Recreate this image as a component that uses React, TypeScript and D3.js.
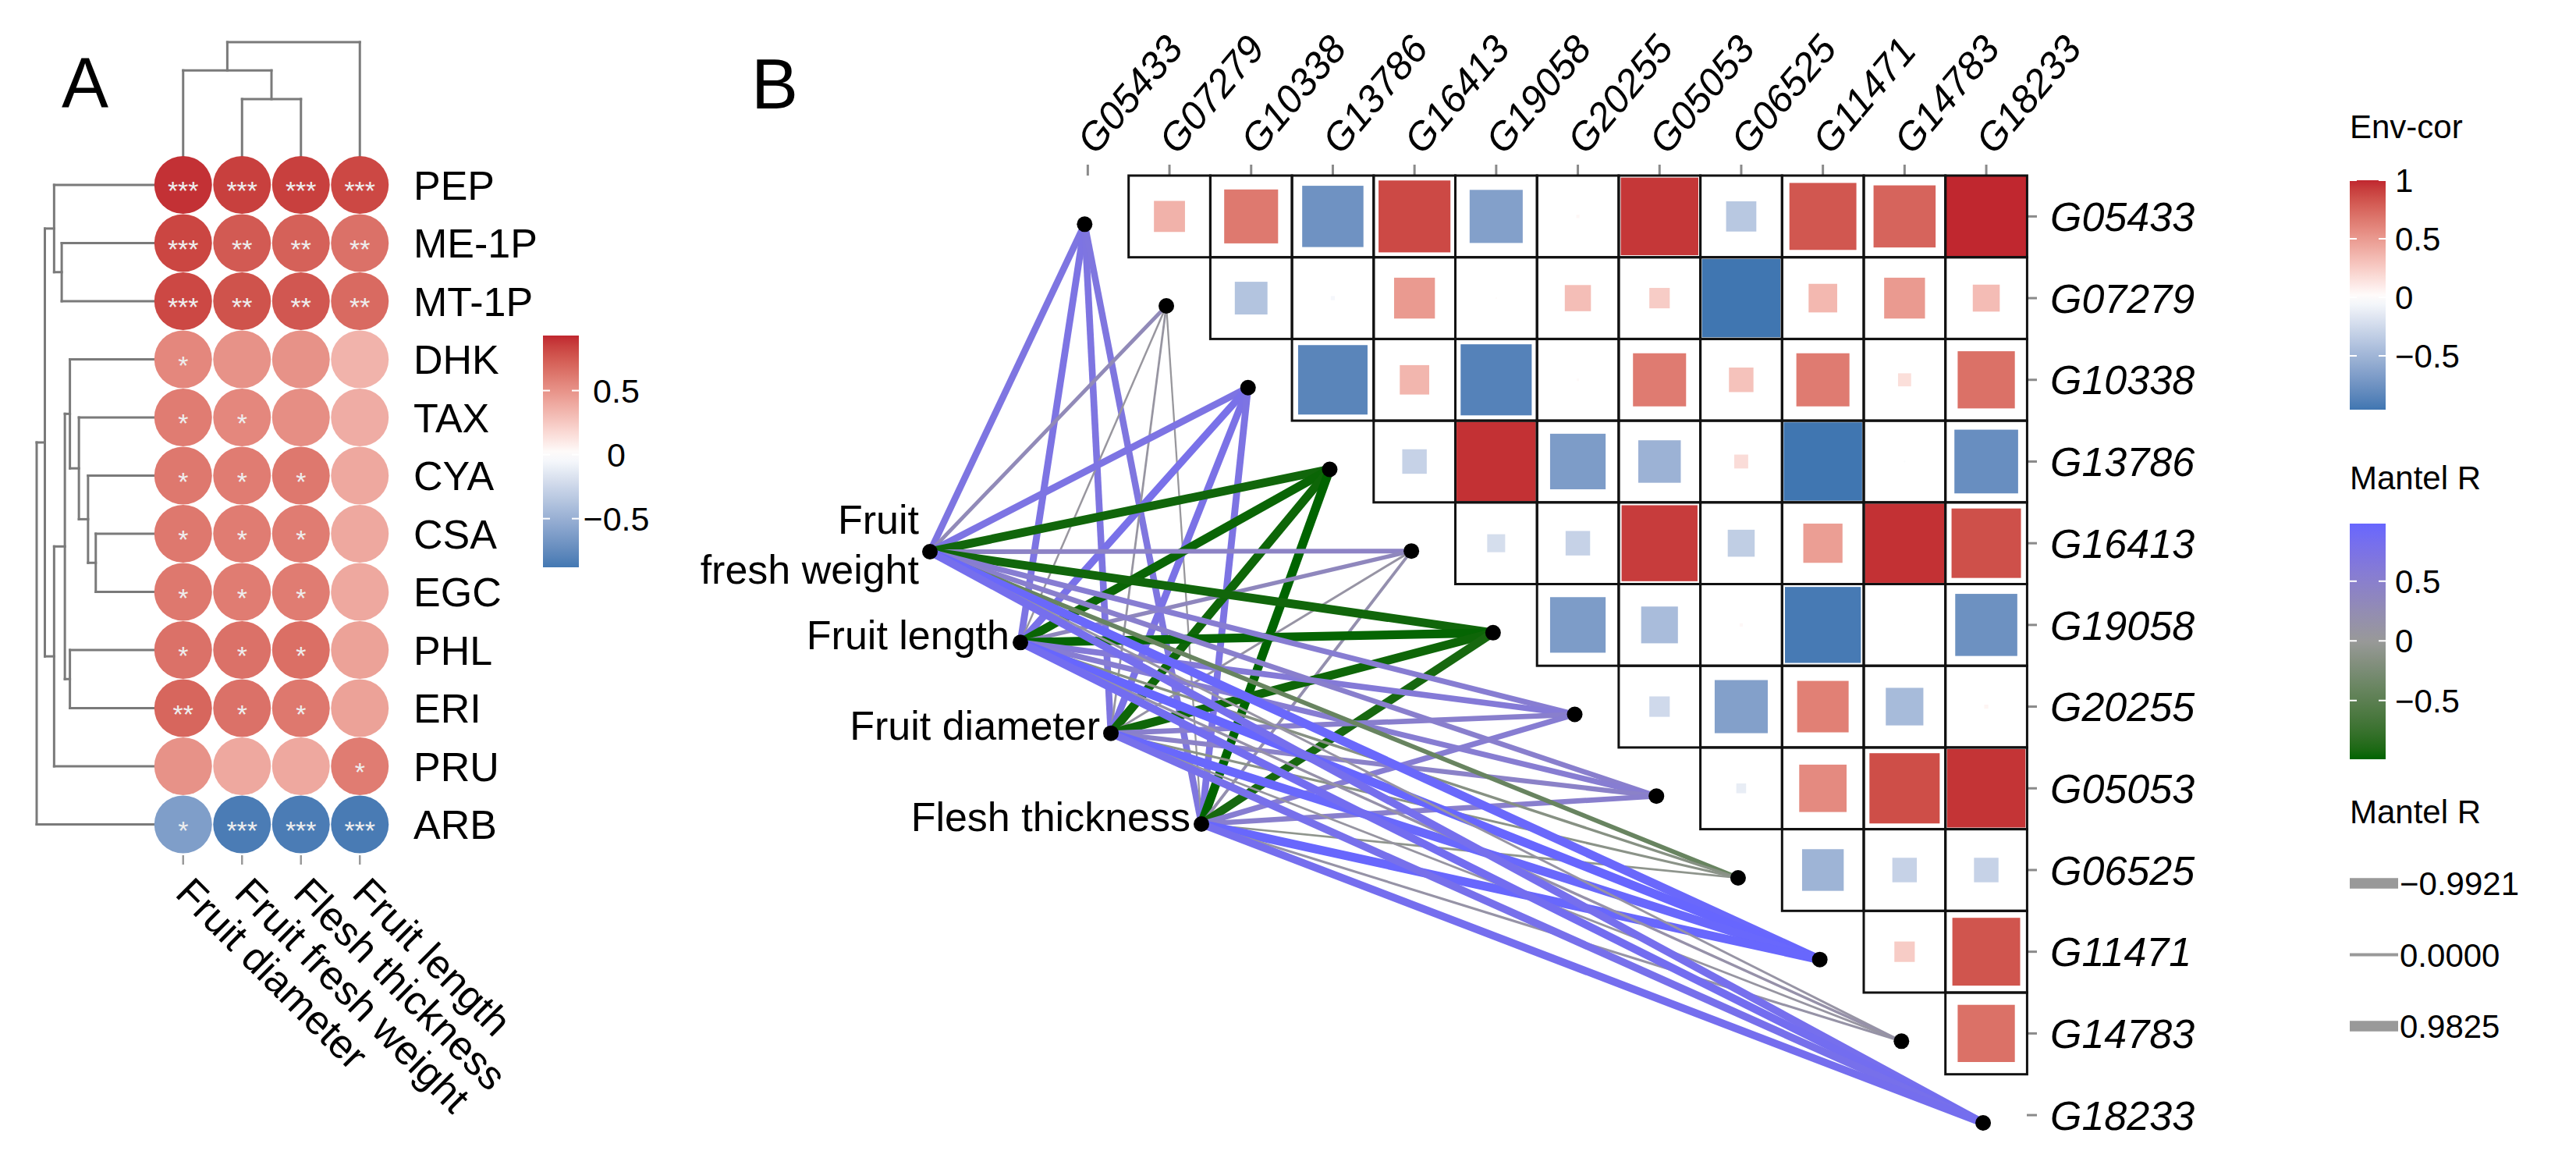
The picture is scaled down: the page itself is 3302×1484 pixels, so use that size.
import React from 'react';
import * as d3 from 'd3';

// ================= Panel A data =================
const traitsA = ['PEP', 'ME-1P', 'MT-1P', 'DHK', 'TAX', 'CYA', 'CSA', 'EGC', 'PHL', 'ERI', 'PRU', 'ARB'];
const fruitVarsA = ['Fruit diameter', 'Fruit fresh weight', 'Flesh thickness', 'Fruit length'];
const corrA: number[][] = [
  [0.90, 0.85, 0.85, 0.82],
  [0.83, 0.75, 0.72, 0.65],
  [0.82, 0.78, 0.76, 0.68],
  [0.55, 0.50, 0.50, 0.35],
  [0.60, 0.55, 0.52, 0.38],
  [0.62, 0.60, 0.62, 0.40],
  [0.62, 0.60, 0.60, 0.40],
  [0.62, 0.60, 0.60, 0.40],
  [0.65, 0.65, 0.66, 0.43],
  [0.70, 0.65, 0.62, 0.43],
  [0.50, 0.40, 0.40, 0.60],
  [-0.62, -0.85, -0.85, -0.86],
];
const starsA: string[][] = [
  ['***', '***', '***', '***'],
  ['***', '**', '**', '**'],
  ['***', '**', '**', '**'],
  ['*', '', '', ''],
  ['*', '*', '', ''],
  ['*', '*', '*', ''],
  ['*', '*', '*', ''],
  ['*', '*', '*', ''],
  ['*', '*', '*', ''],
  ['**', '*', '*', ''],
  ['', '', '', '*'],
  ['*', '***', '***', '***'],
];
type Tree = string | { h: number; c: Tree[] };
const rowTreeA: Tree = {
  h: 1.0,
  c: [
    {
      h: 0.93,
      c: [
        { h: 0.851, c: ['PEP', { h: 0.786, c: ['ME-1P', 'MT-1P'] }] },
        {
          h: 0.851,
          c: [
            {
              h: 0.759,
              c: [
                { h: 0.716, c: ['DHK', { h: 0.639, c: ['TAX', { h: 0.561, c: ['CYA', { h: 0.495, c: ['CSA', 'EGC'] }] }] }] },
                { h: 0.716, c: ['PHL', 'ERI'] },
              ],
            },
            'PRU',
          ],
        },
      ],
    },
    'ARB',
  ],
};
const colTreeA: Tree = {
  h: 1.0,
  c: [{ h: 0.752, c: ['Fruit diameter', { h: 0.5, c: ['Fruit fresh weight', 'Flesh thickness'] }] }, 'Fruit length'],
};
const breaksA = [0.5, 0, -0.5];
const rangeA = [-0.88, 0.93];

// ================= Panel B data =================
const genes = ['G05433', 'G07279', 'G10338', 'G13786', 'G16413', 'G19058', 'G20255', 'G05053', 'G06525', 'G11471', 'G14783', 'G18233'];
// upper triangle: row i holds correlations with genes i+1 .. 11
const geneCor: number[][] = [
  [0.38, 0.66, -0.75, 0.88, -0.65, 0.04, 0.95, -0.37, 0.82, 0.76, 1.0],
  [-0.40, -0.05, 0.50, 0.02, 0.32, 0.25, -0.96, 0.35, 0.50, 0.33],
  [-0.85, 0.36, -0.87, 0.03, 0.65, 0.30, 0.65, 0.16, 0.70],
  [-0.30, 0.97, -0.68, -0.52, 0.17, -0.96, -0.02, -0.78],
  [-0.22, -0.30, 0.93, -0.33, 0.48, 0.97, 0.85],
  [-0.68, -0.45, 0.04, -0.93, 0.01, -0.76],
  [-0.25, -0.65, 0.63, -0.46, 0.05],
  [-0.12, 0.58, 0.86, 0.96],
  [-0.51, -0.30, -0.30],
  [0.25, 0.83],
  [0.70],
];
const envVars = ['Fruit fresh weight', 'Fruit length', 'Fruit diameter', 'Flesh thickness'];
const envLabelLines = [['Fruit', 'fresh weight'], ['Fruit length'], ['Fruit diameter'], ['Flesh thickness']];
// Mantel r: [env][gene]
const mantelR: number[][] = [
  [0.70, 0.30, 0.72, -0.95, 0.42, -0.95, 0.55, 0.50, -0.40, 0.95, 0.10, 0.82],
  [0.72, 0.05, 0.78, -0.97, 0.35, -0.98, 0.60, 0.55, -0.15, 0.9825, 0.15, 0.85],
  [0.70, 0.08, 0.75, -0.96, 0.10, -0.96, 0.50, 0.45, -0.12, 0.96, 0.08, 0.80],
  [0.68, 0.03, 0.72, -0.9921, 0.20, -0.93, 0.55, 0.50, -0.08, 0.97, 0.12, 0.83],
];
const breaksEnv = [1, 0.5, 0, -0.5];
const rangeEnv = [-0.96, 1];
const breaksMantel = [0.5, 0, -0.5];
const rangeMantel = [-0.9921, 0.9825];
const sizeKeys = [-0.9921, 0, 0.9825];
const sizeKeyLabels = ['\u22120.9921', '0.0000', '0.9825'];

const FONT = "'Liberation Sans', Arial, Helvetica, sans-serif";
const RED = '#C0272F';
const BLUE = '#3571AE';
const WHITE = '#FFFFFF';
const fmt = d3.format('~g');

function dendroSegs(tree: Tree, leafPos: (n: string) => number, hPos: (h: number) => number, orient: 'left' | 'top') {
  const segs: number[][] = [];
  function rec(t: Tree): { p: number; h: number } {
    if (typeof t === 'string') return { p: leafPos(t), h: 0 };
    const kids = t.c.map(rec);
    const ps = kids.map((k) => k.p);
    const p = (Math.min(...ps) + Math.max(...ps)) / 2;
    const a = hPos(t.h);
    if (orient === 'left') {
      segs.push([a, Math.min(...ps), a, Math.max(...ps)]);
      kids.forEach((k) => segs.push([hPos(k.h), k.p, a, k.p]));
    } else {
      segs.push([Math.min(...ps), a, Math.max(...ps), a]);
      kids.forEach((k) => segs.push([k.p, hPos(k.h), k.p, a]));
    }
    return { p, h: t.h };
  }
  rec(tree);
  return segs;
}

function Gradient({ id, scale, domain }: { id: string; scale: (v: number) => string; domain: number[] }) {
  const n = 24;
  const stops = d3.range(n + 1).map((i) => {
    const v = domain[0] + ((domain[1] - domain[0]) * i) / n;
    return <stop key={i} offset={`${(i / n) * 100}%`} stopColor={scale(v)} />;
  });
  return (
    <linearGradient id={id} x1="0" y1="1" x2="0" y2="0">
      {stops}
    </linearGradient>
  );
}

export default function App() {
  // ---------- A scales ----------
  const xA = d3.scaleBand<string>().domain(fruitVarsA).range([197, 499]);
  const yA = d3.scaleBand<string>().domain(traitsA).range([199.75, 1093.75]);
  const mA = Math.max(Math.abs(rangeA[0]), Math.abs(rangeA[1]));
  const colorA = d3.scaleLinear<string>().domain([-mA, 0, mA]).range([BLUE, WHITE, RED]).interpolate(d3.interpolateLab).clamp(true);
  const cxA = (v: string) => (xA(v) as number) + xA.bandwidth() / 2;
  const cyA = (v: string) => (yA(v) as number) + yA.bandwidth() / 2;
  const rowH = d3.scaleLinear().domain([0, 1]).range([197, 47]);
  const colH = d3.scaleLinear().domain([0, 1]).range([200, 54]);
  const rowSegs = dendroSegs(rowTreeA, cyA, rowH, 'left');
  const colSegs = dendroSegs(colTreeA, cxA, colH, 'top');
  const legA = d3.scaleLinear().domain(rangeA).range([727, 430]);

  // ---------- B scales ----------
  const xB = d3.scaleBand<string>().domain(genes).range([1342, 2598.4]);
  const yB = d3.scaleBand<string>().domain(genes).range([225, 1481.4]);
  const cell = xB.bandwidth();
  const cxB = (g: string) => (xB(g) as number) + cell / 2;
  const cyB = (g: string) => (yB(g) as number) + cell / 2;
  const mB = Math.max(Math.abs(rangeEnv[0]), Math.abs(rangeEnv[1]));
  const colorB = d3.scaleLinear<string>().domain([-mB, 0, mB]).range([BLUE, WHITE, RED]).interpolate(d3.interpolateLab).clamp(true);
  const sizeB = d3.scaleLinear().domain([0, 1]).range([0, cell]).clamp(true);
  const mM = Math.max(Math.abs(rangeMantel[0]), Math.abs(rangeMantel[1]));
  const colorM = d3.scaleLinear<string>().domain([-mM, 0, mM]).range(['#006400', '#999999', '#6666FF']).interpolate(d3.interpolateLab).clamp(true);
  const widthM = d3.scaleLinear().domain([0, 1]).range([2, 11.5]);
  const envX = d3.scaleLinear().domain([0, envVars.length - 1]).range([1192, 1540]);
  const envY = d3.scaleLinear().domain([0, envVars.length - 1]).range([707, 1056]);
  const gnx = (g: string) => cxB(g) - 4;
  const gny = (g: string) => cyB(g) + 10;

  const legL = 3012;
  const barW = 46;
  const legEnv = d3.scaleLinear().domain(rangeEnv).range([525, 231]);
  const legMan = d3.scaleLinear().domain(rangeMantel).range([973, 671]);
  const keyY = d3.scaleLinear().domain([0, 2]).range([1132, 1315]);

  const cells: { i: number; j: number; r: number }[] = [];
  geneCor.forEach((row, i) => row.forEach((r, k) => cells.push({ i, j: i + 1 + k, r })));

  const edges: { e: number; g: number; r: number }[] = [];
  genes.forEach((_, g) => envVars.forEach((__, e) => edges.push({ e, g, r: mantelR[e][g] })));

  return (
    <div style={{ position: 'absolute', left: 0, top: 0 }}>
      <svg width={3302} height={1484} style={{ display: 'block', background: '#fff' }} fontFamily={FONT}>
        <defs>
          <Gradient id="gA" scale={colorA} domain={rangeA} />
          <Gradient id="gEnv" scale={colorB} domain={rangeEnv} />
          <Gradient id="gMan" scale={colorM} domain={rangeMantel} />
        </defs>
        <rect width={3302} height={1484} fill="#fff" />

        {/* ================= Panel A ================= */}
        <text x={79} y={137} fontSize={90}>A</text>
        <g stroke="#7a7a7a" strokeWidth={3} fill="none" strokeLinecap="square">
          {rowSegs.map((s, k) => <line key={'r' + k} x1={s[0]} y1={s[1]} x2={s[2]} y2={s[3]} />)}
          {colSegs.map((s, k) => <line key={'c' + k} x1={s[0]} y1={s[1]} x2={s[2]} y2={s[3]} />)}
        </g>
        {traitsA.map((t, i) =>
          fruitVarsA.map((f, j) => (
            <g key={t + f}>
              <circle cx={cxA(f)} cy={cyA(t)} r={37} fill={colorA(corrA[i][j])} />
              {starsA[i][j] && (
                <text x={cxA(f)} y={cyA(t) + 19} fontSize={34} fill="#eeeeee" textAnchor="middle">
                  {starsA[i][j]}
                </text>
              )}
            </g>
          ))
        )}
        {traitsA.map((t) => (
          <text key={t} x={530} y={cyA(t)} dy="0.36em" fontSize={52}>{t}</text>
        ))}
        {fruitVarsA.map((f) => (
          <g key={f}>
            <line x1={cxA(f)} x2={cxA(f)} y1={1096} y2={1108} stroke="#9a9a9a" strokeWidth={2.5} />
            <text transform={`translate(${cxA(f) - 12},${1147}) rotate(45)`} fontSize={52}>{f}</text>
          </g>
        ))}
        {/* legend A */}
        <rect x={696} y={legA(rangeA[1])} width={barW} height={legA(rangeA[0]) - legA(rangeA[1])} fill="url(#gA)" />
        {breaksA.map((b) => (
          <g key={b}>
            <line x1={696} x2={705} y1={legA(b)} y2={legA(b)} stroke="#fff" strokeWidth={2} />
            <line x1={733} x2={742} y1={legA(b)} y2={legA(b)} stroke="#fff" strokeWidth={2} />
            <text x={790} y={legA(b)} dy="0.36em" fontSize={43} textAnchor="middle">{fmt(b)}</text>
          </g>
        ))}

        {/* ================= Panel B ================= */}
        <text x={963} y={139} fontSize={90}>B</text>
        {/* top ticks & labels */}
        {genes.map((g) => (
          <g key={'t' + g}>
            <line x1={cxB(g)} x2={cxB(g)} y1={211} y2={225} stroke="#8a8a8a" strokeWidth={3} />
            <text transform={`translate(${cxB(g) + 10},${200}) rotate(-50)`} fontSize={50} fontStyle="italic">{g}</text>
          </g>
        ))}
        {/* right ticks & labels */}
        {genes.map((g) => (
          <g key={'r' + g}>
            <line x1={2598} x2={2611} y1={cyB(g)} y2={cyB(g)} stroke="#8a8a8a" strokeWidth={3} />
            <text x={2628} y={cyB(g)} dy="0.36em" fontSize={52} fontStyle="italic">{g}</text>
          </g>
        ))}
        {/* correlation squares */}
        {cells.map(({ i, j, r }) => {
          const s = sizeB(Math.abs(r));
          return (
            <rect key={`s${i}-${j}`} x={cxB(genes[j]) - s / 2} y={cyB(genes[i]) - s / 2} width={s} height={s} fill={colorB(r)} />
          );
        })}
        {cells.map(({ i, j }) => (
          <rect key={`b${i}-${j}`} x={xB(genes[j])} y={yB(genes[i])} width={cell} height={cell} fill="none" stroke="#111" strokeWidth={3} />
        ))}
        {/* Mantel edges */}
        {edges.map(({ e, g, r }) => (
          <line
            key={`e${e}-${g}`}
            x1={envX(e)}
            y1={envY(e)}
            x2={gnx(genes[g])}
            y2={gny(genes[g])}
            stroke={colorM(r)}
            strokeWidth={widthM(Math.abs(r))}
            strokeLinecap="butt"
          />
        ))}
        {/* nodes */}
        {genes.map((g) => <circle key={'n' + g} cx={gnx(g)} cy={gny(g)} r={10} fill="#000" />)}
        {envVars.map((v, e) => <circle key={'en' + v} cx={envX(e)} cy={envY(e)} r={10} fill="#000" />)}
        {envVars.map((v, e) => {
          const lines = envLabelLines[e];
          const lh = 64;
          const y0 = envY(e) - 10 - ((lines.length - 1) * lh) / 2;
          return (
            <g key={'el' + v}>
              {lines.map((ln, k) => (
                <text key={k} x={envX(e) - 14} y={y0 + k * lh} dy="0.36em" fontSize={52} textAnchor="end">{ln}</text>
              ))}
            </g>
          );
        })}

        {/* legends B */}
        <text x={legL} y={162} dy="0.36em" fontSize={42}>Env-cor</text>
        <rect x={legL} y={legEnv(rangeEnv[1])} width={barW} height={legEnv(rangeEnv[0]) - legEnv(rangeEnv[1])} fill="url(#gEnv)" />
        {breaksEnv.map((b) => (
          <g key={'be' + b}>
            <line x1={legL} x2={legL + 9} y1={legEnv(b)} y2={legEnv(b)} stroke="#fff" strokeWidth={2} />
            <line x1={legL + barW - 9} x2={legL + barW} y1={legEnv(b)} y2={legEnv(b)} stroke="#fff" strokeWidth={2} />
            <text x={legL + barW + 12} y={legEnv(b)} dy="0.36em" fontSize={42}>{fmt(b)}</text>
          </g>
        ))}
        <text x={legL} y={612} dy="0.36em" fontSize={42}>Mantel R</text>
        <rect x={legL} y={legMan(rangeMantel[1])} width={barW} height={legMan(rangeMantel[0]) - legMan(rangeMantel[1])} fill="url(#gMan)" />
        {breaksMantel.map((b) => (
          <g key={'bm' + b}>
            <line x1={legL} x2={legL + 9} y1={legMan(b)} y2={legMan(b)} stroke="#fff" strokeWidth={2} />
            <line x1={legL + barW - 9} x2={legL + barW} y1={legMan(b)} y2={legMan(b)} stroke="#fff" strokeWidth={2} />
            <text x={legL + barW + 12} y={legMan(b)} dy="0.36em" fontSize={42}>{fmt(b)}</text>
          </g>
        ))}
        <text x={legL} y={1040} dy="0.36em" fontSize={42}>Mantel R</text>
        {sizeKeys.map((v, k) => (
          <g key={'sk' + k}>
            <line x1={legL} x2={legL + 62} y1={keyY(k)} y2={keyY(k)} stroke="#999999" strokeWidth={widthM(Math.abs(v)) + 2} />
            <text x={legL + 64} y={keyY(k)} dy="0.36em" fontSize={42}>{sizeKeyLabels[k]}</text>
          </g>
        ))}
      </svg>
    </div>
  );
}
